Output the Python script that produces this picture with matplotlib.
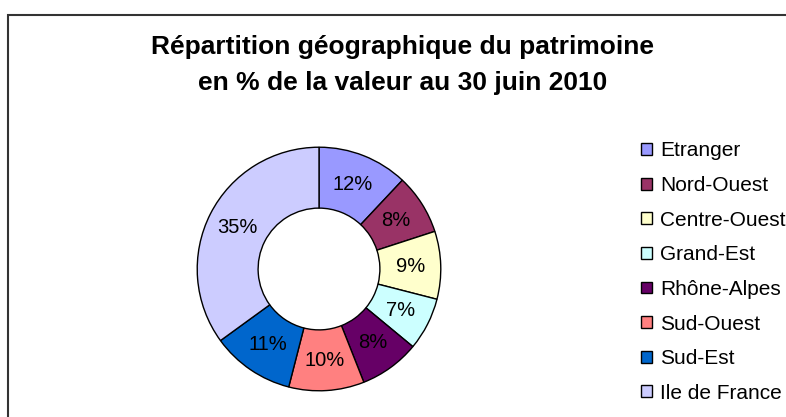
import matplotlib.pyplot as plt
from matplotlib.patches import Patch, Rectangle

regions = ['Etranger', 'Nord-Ouest', 'Centre-Ouest', 'Grand-Est',
           'Rhône-Alpes', 'Sud-Ouest', 'Sud-Est', 'Ile de France']
shares = [12, 8, 9, 7, 8, 10, 11, 35]
colors = ['#9999FF', '#993366', '#FFFFCC', '#CCFFFF',
          '#660066', '#FF8080', '#0066CC', '#CCCCFF']

plt.rcParams['font.family'] = ['Liberation Sans', 'DejaVu Sans']

W, H = 786, 417
fig = plt.figure(figsize=(W / 100, H / 100), dpi=100)

# outer frame (runs off the right and bottom edges)
fig.patches.append(Rectangle((8 / W, -0.1), 1.2, 1.1 - 15 / H, transform=fig.transFigure,
                             fill=False, edgecolor='#333333', linewidth=1.5))

fig.text(403 / W, 1 - 47 / H, 'Répartition géographique du patrimoine',
         ha='center', va='center', fontsize=19, fontweight='bold')
fig.text(403 / W, 1 - 83 / H, 'en % de la valeur au 30 juin 2010',
         ha='center', va='center', fontsize=19, fontweight='bold')

# donut: centre (319, 269) px, radius 123 px
cx, cy, r = 319, 269, 123
ax = fig.add_axes([(cx - r) / W, (H - cy - r) / H, 2 * r / W, 2 * r / H])
wedges, texts, autotexts = ax.pie(
    shares, colors=colors, startangle=90, counterclock=False,
    autopct=lambda p: f'{p:.0f}%', pctdistance=0.75,
    wedgeprops=dict(width=0.5, edgecolor='black', linewidth=1),
    textprops=dict(fontsize=14.5, color='black'))
ax.set_xlim(-1.01, 1.01)
ax.set_ylim(-1.01, 1.01)
ax.set_aspect('equal')
ax.axis('off')

handles = [Patch(facecolor=c, edgecolor='black', linewidth=1) for c in colors]
fig.legend(handles, regions, loc='upper left', bbox_to_anchor=(631 / W, 1 - 131 / H),
           frameon=False, fontsize=15, handlelength=0.5, handleheight=0.5,
           handletextpad=0.4, labelspacing=0.75, borderpad=0)

fig.savefig('out.png', dpi=100)
